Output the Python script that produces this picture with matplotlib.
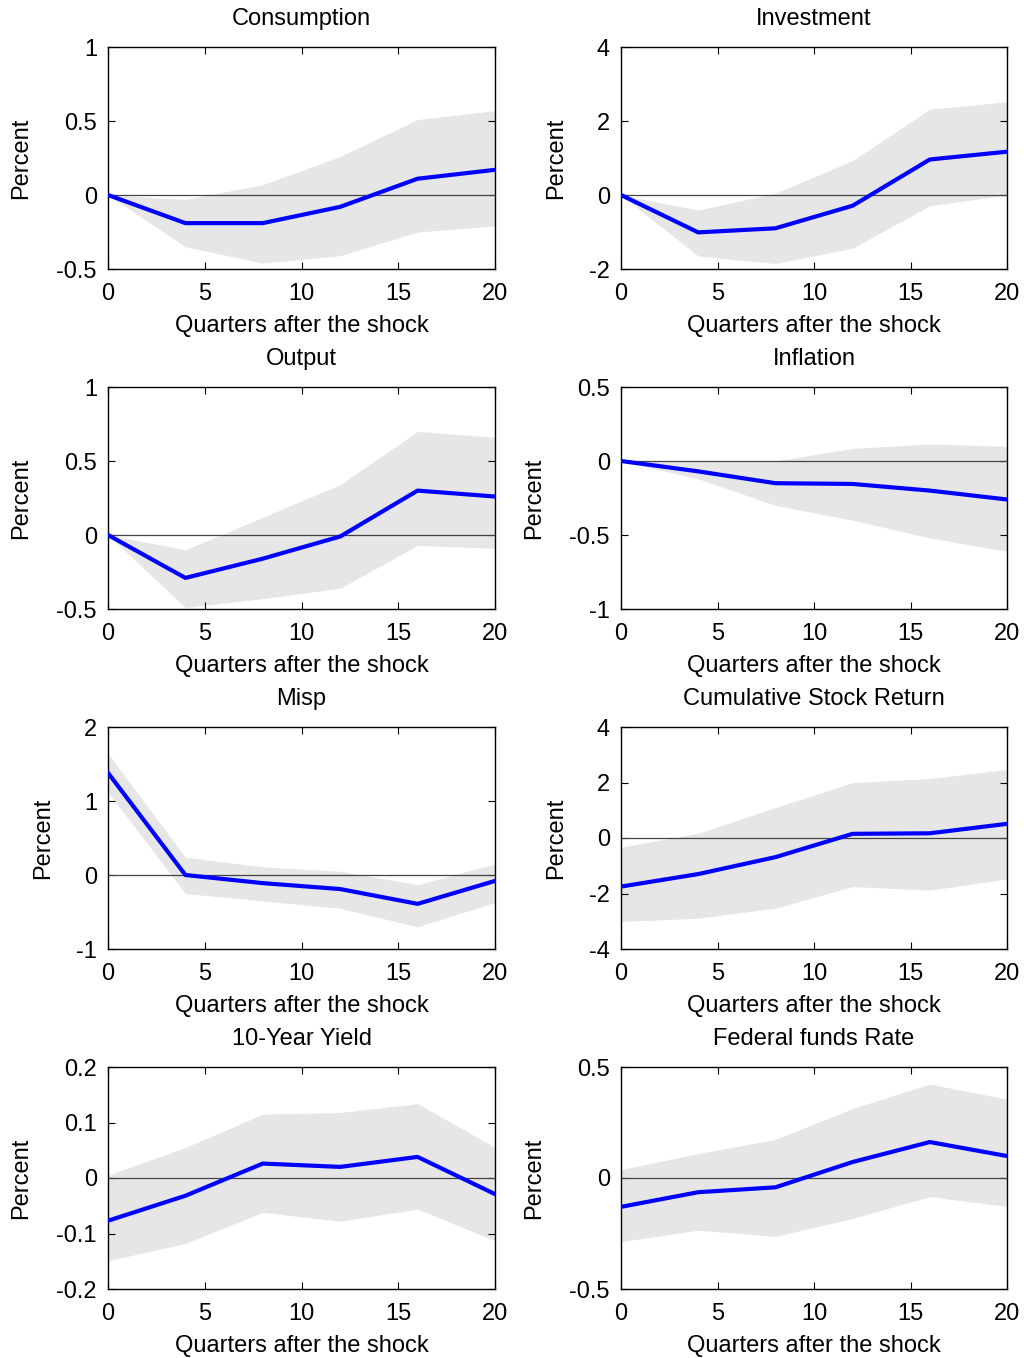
import matplotlib
matplotlib.use("Agg")
import matplotlib.pyplot as plt

plt.rcParams['font.family'] = ['Liberation Sans', 'DejaVu Sans']

quarters = [0, 4, 8, 12, 16, 20]

titles = ["Consumption", "Investment", "Output", "Inflation",
          "Misp", "Cumulative Stock Return", "10-Year Yield", "Federal funds Rate"]

consumption_mid = [0, -0.19, -0.19, -0.08, 0.11, 0.17]
consumption_up = [0, -0.03, 0.07, 0.26, 0.51, 0.57]
consumption_lo = [0, -0.35, -0.46, -0.41, -0.25, -0.21]

investment_mid = [0, -1.01, -0.90, -0.29, 0.96, 1.17]
investment_up = [0, -0.41, 0.05, 0.93, 2.32, 2.52]
investment_lo = [0, -1.65, -1.85, -1.44, -0.29, 0.0]

output_mid = [0, -0.29, -0.16, -0.01, 0.30, 0.26]
output_up = [0, -0.10, 0.12, 0.34, 0.70, 0.66]
output_lo = [0, -0.49, -0.43, -0.36, -0.07, -0.09]

inflation_mid = [0, -0.07, -0.15, -0.155, -0.20, -0.26]
inflation_up = [0, 0.0, 0.0, 0.085, 0.115, 0.10]
inflation_lo = [0, -0.12, -0.30, -0.40, -0.52, -0.61]

misp_mid = [1.38, 0.0, -0.11, -0.19, -0.39, -0.08]
misp_up = [1.64, 0.24, 0.11, 0.05, -0.13, 0.15]
misp_lo = [1.12, -0.25, -0.35, -0.45, -0.70, -0.37]

stock_mid = [-1.75, -1.30, -0.69, 0.15, 0.17, 0.51]
stock_up = [-0.33, 0.17, 1.09, 2.00, 2.14, 2.47]
stock_lo = [-3.01, -2.89, -2.53, -1.75, -1.88, -1.48]

yield_mid = [-0.077, -0.032, 0.026, 0.020, 0.038, -0.029]
yield_up = [0.005, 0.055, 0.115, 0.118, 0.134, 0.055]
yield_lo = [-0.149, -0.118, -0.062, -0.078, -0.056, -0.113]

ffr_mid = [-0.13, -0.064, -0.042, 0.072, 0.162, 0.099]
ffr_up = [0.038, 0.11, 0.174, 0.313, 0.423, 0.355]
ffr_lo = [-0.287, -0.235, -0.263, -0.182, -0.084, -0.128]

mids = [consumption_mid, investment_mid, output_mid, inflation_mid,
        misp_mid, stock_mid, yield_mid, ffr_mid]
ups = [consumption_up, investment_up, output_up, inflation_up,
       misp_up, stock_up, yield_up, ffr_up]
los = [consumption_lo, investment_lo, output_lo, inflation_lo,
       misp_lo, stock_lo, yield_lo, ffr_lo]

ylims = [(-0.5, 1), (-2, 4), (-0.5, 1), (-1, 0.5), (-1, 2), (-4, 4), (-0.2, 0.2), (-0.5, 0.5)]
yticks = [[-0.5, 0, 0.5, 1], [-2, 0, 2, 4], [-0.5, 0, 0.5, 1], [-1, -0.5, 0, 0.5],
          [-1, 0, 1, 2], [-4, -2, 0, 2, 4], [-0.2, -0.1, 0, 0.1, 0.2], [-0.5, 0, 0.5]]
yticklabels = [["-0.5", "0", "0.5", "1"], ["-2", "0", "2", "4"], ["-0.5", "0", "0.5", "1"],
               ["-1", "-0.5", "0", "0.5"], ["-1", "0", "1", "2"], ["-4", "-2", "0", "2", "4"],
               ["-0.2", "-0.1", "0", "0.1", "0.2"], ["-0.5", "0", "0.5"]]
xticks = [0, 5, 10, 15, 20]

fig = plt.figure(figsize=(10.27, 13.58), dpi=100)
W, H = 1027, 1358
col_left = [108, 621]
col_w = [387, 386]
row_top = [47, 387, 727, 1067]
row_h = 222
ylabel_center_px = [20, 555, 20, 533, 42, 555, 20, 533]

fs = 17
for i in range(8):
    r, c = divmod(i, 2)
    ax = fig.add_axes([col_left[c] / W, 1 - (row_top[r] + row_h) / H, col_w[c] / W, row_h / H])
    ax.fill_between(quarters, los[i], ups[i], color='#e6e6e6', linewidth=0, zorder=1)
    ax.axhline(0, color='#444444', linewidth=0.9, zorder=2)
    ax.plot(quarters, mids[i], color='#0000ff', linewidth=3.0, zorder=3)
    ax.set_xlim(0, 20)
    ax.set_ylim(*ylims[i])
    ax.set_xticks(xticks)
    ax.set_xticklabels([str(t) for t in xticks])
    ax.set_yticks(yticks[i])
    ax.set_yticklabels(yticklabels[i])
    ax.tick_params(direction='in', top=True, right=True, labelsize=fs, length=5, width=0.8, pad=8)
    ax.tick_params(axis='x', pad=10)
    for s in ax.spines.values():
        s.set_linewidth(1.0)
    ax.set_title(titles[i], fontsize=fs, pad=16)
    ax.set_xlabel("Quarters after the shock", fontsize=fs, labelpad=7)
    ax.set_ylabel("Percent", fontsize=fs)
    ax.yaxis.set_label_coords((ylabel_center_px[i] + 12 - col_left[c]) / col_w[c], 0.5)

fig.savefig("out.png", dpi=100)
